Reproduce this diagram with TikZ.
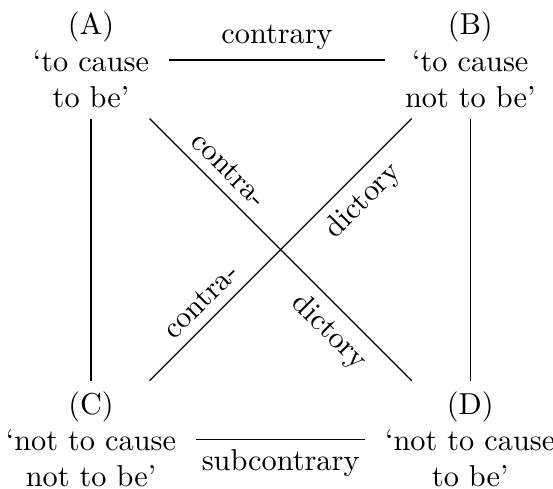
\documentclass[tikz,border=0pt]{standalone}
\begin{document}
\begin{tikzpicture}[
		v/.style = {align=center},
		l/.style = {thin},
		h/.style = {thin, shorten <=3pt, shorten >=3pt},
		d/.style = {sloped},
		]
		
		\useasboundingbox (-1.056, 0.696) rectangle (5.36, -4.977);
		
		% === === Nodes === ===
		\node[v]	(A)		at	(0, 0)			{(A)\\`to cause\\to be'};
		\node[v]	(B)		at	(4.4, 0)		{(B)\\`to cause\\not to be'};
		\node[v]	(C)		at	(0, -4.4)		{(C)\\`not to cause\\not to be'};
		\node[v]	(D)		at	(4.4, -4.4)		{(D)\\`not to cause\\to be'};
		
		% === === Lines === ===
		\draw[h]	(A)		--	node[above]	(ctr)	{contrary}		(B);
		\draw[h]	(C)		--	node[below]	(sub)	{subcontrary}	(D);
		\draw[l]	(A)		--	(C);
		\draw[l]	(B)		--	(D);
		\draw[l]	(A)		--	node[d, above, pos=0.25]	(ad1)	{contra-}
								node[d, below, pos=0.75]	(ad2)	{dictory}	(D);
		\draw[l]	(C)		--	node[d, above, pos=0.25]	(cb1)	{contra-}
								node[d, below, pos=0.75]	(cb2)	{dictory}	(B);
		
	\end{tikzpicture}
\end{document}
